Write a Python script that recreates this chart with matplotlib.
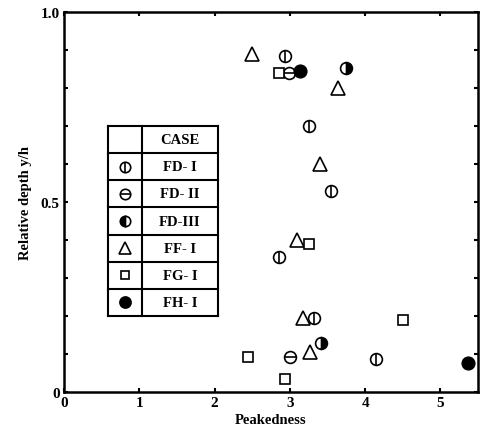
import numpy as np
import matplotlib.pyplot as plt
from matplotlib.ticker import MultipleLocator

plt.rcParams['font.family'] = ['Liberation Serif', 'DejaVu Serif']
plt.rcParams['font.weight'] = 'bold'

# peakedness (x) vs relative depth y/h (y) for each case
fd1_x = [2.94, 3.26, 3.55, 2.86, 3.32, 4.15]
fd1_y = [0.884, 0.70, 0.53, 0.356, 0.195, 0.087]
fd2_x = [2.99, 3.00]
fd2_y = [0.84, 0.093]
fd3_x = [3.75, 3.42]
fd3_y = [0.853, 0.13]
ff1_x = [2.50, 3.64, 3.40, 3.09, 3.18, 3.27]
ff1_y = [0.89, 0.80, 0.60, 0.40, 0.195, 0.105]
fg1_x = [2.86, 3.26, 4.50, 2.44, 2.94]
fg1_y = [0.84, 0.39, 0.19, 0.093, 0.034]
fh1_x = [3.14, 5.37]
fh1_y = [0.845, 0.077]

cases = ['FD- I', 'FD- II', 'FD-III', 'FF- I', 'FG- I', 'FH- I']

fig = plt.figure(figsize=(4.81, 4.35), dpi=100)
ax = fig.add_axes([0.133, 0.0966, 0.861, 0.8734])

mew = 1.2


def draw_case(a, x, y, kind, tr=None, side='right', ms=8.5):
    kw = dict(linestyle='none', color='k', markeredgewidth=mew, zorder=3)
    if tr is not None:
        kw['transform'] = tr
        kw['clip_on'] = False
    if kind == 'fd1':
        a.plot(x, y, marker='o', ms=ms, mfc='white', **kw)
        a.plot(x, y, marker='|', ms=ms, **kw)
    elif kind == 'fd2':
        a.plot(x, y, marker='o', ms=ms, mfc='white', **kw)
        a.plot(x, y, marker='_', ms=ms, **kw)
    elif kind == 'fd3':
        a.plot(x, y, marker='o', ms=ms, fillstyle=side, mfc='k',
               markerfacecoloralt='white', **kw)
    elif kind == 'ff1':
        a.plot(x, y, marker='^', ms=ms + 1, mfc='white', **kw)
    elif kind == 'fg1':
        a.plot(x, y, marker='s', ms=ms - 1.5, mfc='white', **kw)
    elif kind == 'fh1':
        a.plot(x, y, marker='o', ms=ms + 0.5, mfc='k', **kw)


draw_case(ax, fd1_x, fd1_y, 'fd1')
draw_case(ax, fd2_x, fd2_y, 'fd2')
draw_case(ax, fd3_x, fd3_y, 'fd3')
draw_case(ax, ff1_x, ff1_y, 'ff1')
draw_case(ax, fg1_x, fg1_y, 'fg1')
draw_case(ax, fh1_x, fh1_y, 'fh1')

ax.set_xlim(0, 5.5)
ax.set_ylim(0, 1.0)
ax.set_xticks([0, 1, 2, 3, 4, 5])
ax.set_yticks([0, 0.5, 1.0])
ax.set_yticklabels(['0', '0.5', '1.0'])
ax.yaxis.set_minor_locator(MultipleLocator(0.1))
ax.tick_params(which='both', direction='in', top=True, right=True,
               length=3, width=1.5, labelsize=11, pad=3)
for s in ax.spines.values():
    s.set_linewidth(1.8)
ax.set_xlabel('Peakedness', fontsize=10.5, fontweight='bold', labelpad=3)
ax.set_ylabel('Relative depth y/h', fontsize=10.5, fontweight='bold', labelpad=6)

# case table drawn in axes coordinates
left, mid, right = 0.106, 0.188, 0.372
top, bottom = 0.70, 0.20
n = len(cases) + 1
rows = np.linspace(top, bottom, n + 1)
for yy in rows:
    ax.plot([left, right], [yy, yy], color='k', lw=1.5, transform=ax.transAxes,
            clip_on=False, zorder=4)
for xx in [left, mid, right]:
    ax.plot([xx, xx], [top, bottom], color='k', lw=1.5, transform=ax.transAxes,
            clip_on=False, zorder=4)
centers = (rows[:-1] + rows[1:]) / 2
ax.text((mid + right) / 2, centers[0], 'CASE', transform=ax.transAxes,
        ha='center', va='center', fontsize=10.5)
kinds = ['fd1', 'fd2', 'fd3', 'ff1', 'fg1', 'fh1']
for i, (k, label) in enumerate(zip(kinds, cases)):
    cy = centers[i + 1]
    draw_case(ax, [(left + mid) / 2], [cy], k, tr=ax.transAxes, side='left',
              ms=7.5)
    ax.text((mid + right) / 2, cy, label, transform=ax.transAxes,
            ha='center', va='center', fontsize=10.5)

fig.savefig('out.png', dpi=100)
